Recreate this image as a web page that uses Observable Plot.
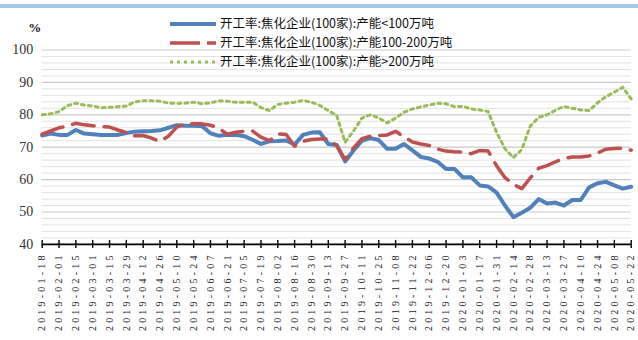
<!DOCTYPE html>
<html><head><meta charset="utf-8">
<script src="https://cdn.jsdelivr.net/npm/d3@7"></script>
<script src="https://cdn.jsdelivr.net/npm/@observablehq/plot@0.6"></script>
<style>
html,body{margin:0;padding:0;background:#fff;}
#chart{position:relative;width:638px;height:340px;overflow:hidden;}
</style></head><body><div id="chart"></div>
<script>
const dates = ["2019-01-18","2019-01-25","2019-02-01","2019-02-08","2019-02-15","2019-02-22","2019-03-01","2019-03-08","2019-03-15","2019-03-22",
"2019-03-29","2019-04-05","2019-04-12","2019-04-19","2019-04-26","2019-05-03","2019-05-10","2019-05-17","2019-05-24","2019-05-31",
"2019-06-07","2019-06-14","2019-06-21","2019-06-28","2019-07-05","2019-07-12","2019-07-19","2019-07-26","2019-08-02","2019-08-09",
"2019-08-16","2019-08-23","2019-08-30","2019-09-06","2019-09-13","2019-09-20","2019-09-27","2019-10-04","2019-10-11","2019-10-18",
"2019-10-25","2019-11-01","2019-11-08","2019-11-15","2019-11-22","2019-11-29","2019-12-06","2019-12-13","2019-12-20","2019-12-27",
"2020-01-03","2020-01-10","2020-01-17","2020-01-24","2020-01-31","2020-02-07","2020-02-14","2020-02-21","2020-02-28","2020-03-06",
"2020-03-13","2020-03-20","2020-03-27","2020-04-03","2020-04-10","2020-04-17","2020-04-24","2020-05-01","2020-05-08","2020-05-15","2020-05-22"];

// 产能<100万吨
const small = [73.6,74.2,73.8,73.8,75.3,74.2,74.0,73.8,73.8,73.8,
74.4,74.8,74.9,75.0,75.2,76.0,76.8,76.6,76.6,76.5,
74.3,73.5,73.8,73.8,73.4,72.3,71.0,71.8,71.9,72.1,
70.8,73.8,74.5,74.6,71.0,70.7,65.6,69.0,72.0,72.8,
72.2,69.5,69.5,71.0,69.0,67.0,66.5,65.5,63.3,63.3,
60.7,60.7,58.2,57.9,56.0,52.0,48.4,49.8,51.3,54.0,
52.6,52.9,52.0,53.7,53.7,57.6,58.9,59.3,58.2,57.2,57.8];
// 产能100-200万吨
const medium = [74.0,75.0,76.0,76.5,77.4,76.9,76.6,76.4,76.2,75.3,
74.5,73.5,73.6,72.8,71.8,73.4,76.2,77.2,77.2,77.2,
76.8,75.8,74.0,74.6,74.9,75.0,73.1,72.0,74.1,73.9,
70.3,71.8,72.4,72.5,72.5,70.5,66.2,69.8,72.6,73.4,
73.6,73.8,74.9,73.2,71.6,71.0,70.5,69.4,68.8,68.6,
68.5,68.0,69.0,68.8,64.3,60.6,58.5,57.2,60.5,63.5,
64.3,65.5,66.5,67.0,67.0,67.3,68.2,69.4,69.6,69.7,69.1];
// 产能>200万吨
const large = [80.0,80.3,81.0,82.8,83.6,83.0,82.7,82.2,82.3,82.5,
82.7,84.0,84.3,84.3,84.2,83.6,83.5,83.6,83.9,83.4,
83.7,84.3,84.2,83.9,83.9,83.9,82.2,81.3,83.2,83.6,
83.9,84.4,83.9,82.9,81.3,79.8,71.5,75.0,79.0,80.0,
79.0,77.5,79.0,80.8,81.8,82.4,83.0,83.6,83.4,82.5,
82.6,81.8,81.5,81.0,74.6,69.5,66.8,69.3,76.5,79.2,
80.0,81.4,82.6,82.0,81.5,81.3,83.7,85.6,87.0,88.5,84.9];

const seriesNames = ["开工率:焦化企业(100家):产能<100万吨","开工率:焦化企业(100家):产能100-200万吨","开工率:焦化企业(100家):产能>200万吨"];
const seriesColors = ["#4f81bd","#c0504d","#9bbb59"];
const yTicks = [40,50,60,70,80,90,100];
const yMinorTicks = [42,44,46,48,52,54,56,58,62,64,66,68,72,74,76,78,82,84,86,88,92,94,96,98];
const xTickLabels = dates.filter((d,i)=>i%2===0);
const unitLabel = "%";

const parse = d3.utcParse("%Y-%m-%d");
const fmt = d3.utcFormat("%Y-%m-%d");
const xTicks = xTickLabels.map(parse);
const rows = (arr) => dates.map((d,i)=>({date: parse(d), v: arr[i]}));

const plot = Plot.plot({
  width: 638, height: 340,
  marginLeft: 41.7, marginRight: 7.3, marginTop: 49.5, marginBottom: 96.1,
  style: {background: "transparent", fontFamily: "'Liberation Serif', serif", overflow: "visible"},
  x: {type: "utc", domain: [parse(dates[0]), parse(dates[dates.length-1])]},
  y: {domain: [40, 100]},
  marks: [
    Plot.gridY({ticks: yMinorTicks, stroke: "#e2e2e2", strokeOpacity: 1, strokeWidth: 1}),
    Plot.gridY({ticks: yTicks.filter(t=>t>40), stroke: "#c9c9c9", strokeOpacity: 1, strokeWidth: 1.2}),
    Plot.axisY({ticks: yTicks, tickSize: 0, tickPadding: 9, fontSize: 14, fill: "#333", label: null}),
    Plot.axisX({ticks: xTicks, tickFormat: fmt, tickRotate: -90, tickSize: 0, tickPadding: 8, fontSize: 10, fill: "#222", label: null}),
    Plot.ruleY([40], {stroke: "#000", strokeWidth: 1.6}),
    Plot.ruleX(xTicks, {x: d=>d, y1: 40, y2: 40, insetTop: -4, insetBottom: -4, stroke: "#000", strokeWidth: 1.4}),
    Plot.line(rows(small), {x: "date", y: "v", stroke: seriesColors[0], strokeWidth: 4, strokeLinejoin: "round", strokeLinecap: "round"}),
    Plot.line(rows(medium), {x: "date", y: "v", stroke: seriesColors[1], strokeWidth: 3.5, strokeDasharray: "22,10"}),
    Plot.line(rows(large), {x: "date", y: "v", stroke: seriesColors[2], strokeWidth: 3, strokeDasharray: "3,4"}),
    Plot.text([unitLabel], {frameAnchor: "top-left", dx: -14, dy: -27, fontWeight: "bold", fontSize: 13, fill: "#222"})
  ]
});

const svg = d3.select(plot);
svg.selectAll('g[aria-label="x-axis tick label"] text').style("letter-spacing", "3.2px");
svg.insert("rect", ":first-child").attr("x", 0).attr("y", 4).attr("width", 638).attr("height", 4).attr("fill", "#a8c8e8");
const leg = svg.append("g").attr("class", "legend").attr("text-anchor", "start");
const legY = [24, 43, 62];
const legDash = [null, "30,7", "3,4"];
const legW = [4, 3.5, 3];
seriesNames.forEach((name, i) => {
  leg.append("line").attr("x1", 170).attr("x2", 216).attr("y1", legY[i]).attr("y2", legY[i])
    .attr("stroke", seriesColors[i]).attr("stroke-width", legW[i])
    .attr("stroke-dasharray", legDash[i]);
  leg.append("text").attr("x", 220).attr("y", legY[i]).attr("dy", "0.35em")
    .attr("text-anchor", "start")
    .attr("font-family", "'Noto Sans CJK SC', sans-serif").attr("font-size", 12.5).attr("fill", "#111")
    .text(name);
});
document.getElementById("chart").appendChild(plot);
</script></body></html>
